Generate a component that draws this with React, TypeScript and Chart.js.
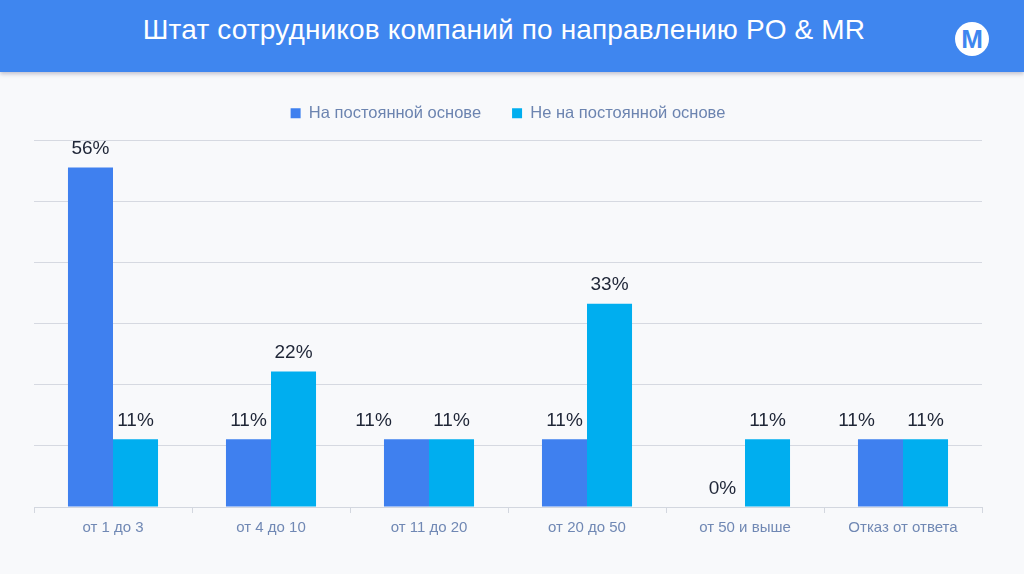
import React, { useEffect, useRef } from "react";
import { Chart, registerables } from "chart.js";

Chart.register(...registerables);

const TITLE = "Штат сотрудников компаний по направлению PO & MR";
const categories = ["от 1 до 3", "от 4 до 10", "от 11 до 20", "от 20 до 50", "от 50 и выше", "Отказ от ответа"];
const seriesNames = ["На постоянной основе", "Не на постоянной основе"];
const permanentValues = [55.6, 11.1, 11.1, 11.1, 0, 11.1];
const nonPermanentValues = [11.1, 22.2, 11.1, 33.3, 11.1, 11.1];
const yTicks = [0, 10, 20, 30, 40, 50, 60];

const FONT = "'Liberation Sans', Arial, sans-serif";

const labelPlugin = {
  id: "barValueLabels",
  afterDatasetsDraw(chart: any) {
    const ctx = chart.ctx;
    const shifts: number[][] = chart.options.plugins.barValueLabels?.shifts || [];
    ctx.save();
    ctx.font = `19px ${FONT}`;
    ctx.fillStyle = "#1e2536";
    ctx.textAlign = "center";
    ctx.textBaseline = "bottom";
    chart.data.datasets.forEach((ds: any, di: number) => {
      const meta = chart.getDatasetMeta(di);
      meta.data.forEach((bar: any, i: number) => {
        const v = ds.data[i];
        const dx = (shifts[di] && shifts[di][i]) || 0;
        ctx.fillText(`${Math.round(v)}%`, bar.x + dx, bar.y - 9);
      });
    });
    ctx.restore();
  },
};

export default function App() {
  const ref = useRef<HTMLCanvasElement | null>(null);
  useEffect(() => {
    if (!ref.current) return;
    const chart = new Chart(ref.current, {
      type: "bar",
      data: {
        labels: categories,
        datasets: [
          {
            label: seriesNames[0],
            data: permanentValues,
            backgroundColor: "#3f80ef",
            categoryPercentage: 0.57,
            barPercentage: 1,
          },
          {
            label: seriesNames[1],
            data: nonPermanentValues,
            backgroundColor: "#00aeef",
            categoryPercentage: 0.57,
            barPercentage: 1,
          },
        ],
      },
      options: {
        animation: false,
        responsive: true,
        maintainAspectRatio: false,
        layout: { padding: { left: 34, right: 42, top: 2, bottom: 31 } },
        plugins: {
          legend: {
            position: "top",
            labels: {
              boxWidth: 10,
              boxHeight: 10,
              padding: 31,
              color: "#6c84b0",
              font: { family: FONT, size: 16.5 },
            },
          },
          title: {
            display: true,
            text: "",
            weight: 500,
            font: { size: 1 },
            padding: { top: 4, bottom: 4 },
          },
          tooltip: { enabled: false },
          barValueLabels: { shifts: [[0, 0, -33, 0, 0, -24], [0, 0, 0, 0, 0, 0]] },
        } as any,
        scales: {
          x: {
            grid: { drawOnChartArea: false, drawTicks: true, tickLength: 6, color: "#d3d7df" },
            border: { color: "#d3d7df", width: 1 },
            ticks: { color: "#7088b4", font: { family: FONT, size: 15 }, padding: 6 },
          },
          y: {
            min: yTicks[0],
            max: yTicks[yTicks.length - 1],
            ticks: { display: false, stepSize: 10 },
            grid: { color: "#d6d9e1", drawTicks: false },
            border: { display: false },
          },
        },
      },
      plugins: [labelPlugin],
    });
    return () => chart.destroy();
  }, []);

  return (
    <div style={{ position: "fixed", left: 0, top: 0, width: 1024, height: 574, background: "#f8f9fb", overflow: "hidden", fontFamily: FONT }}>
      <div style={{ position: "absolute", left: 0, top: 0, width: 1024, height: 72, background: "#3f86ef", boxShadow: "0 2px 4px rgba(90,90,120,0.35)" }}>
        <div style={{ position: "absolute", left: 0, width: 1008, top: 0, height: 60, lineHeight: "60px", textAlign: "center", color: "#ffffff", fontSize: 28, letterSpacing: 0.15 }}>
          {TITLE}
        </div>
        <div style={{ position: "absolute", left: 955, top: 22, width: 34, height: 34, borderRadius: 17, background: "#ffffff", color: "#3f86ef", fontWeight: "bold", fontSize: 26, lineHeight: "34px", textAlign: "center" }}>
          M
        </div>
      </div>
      <div style={{ position: "absolute", left: 0, top: 72, width: 1024, height: 502 }}>
        <canvas ref={ref} />
      </div>
    </div>
  );
}
